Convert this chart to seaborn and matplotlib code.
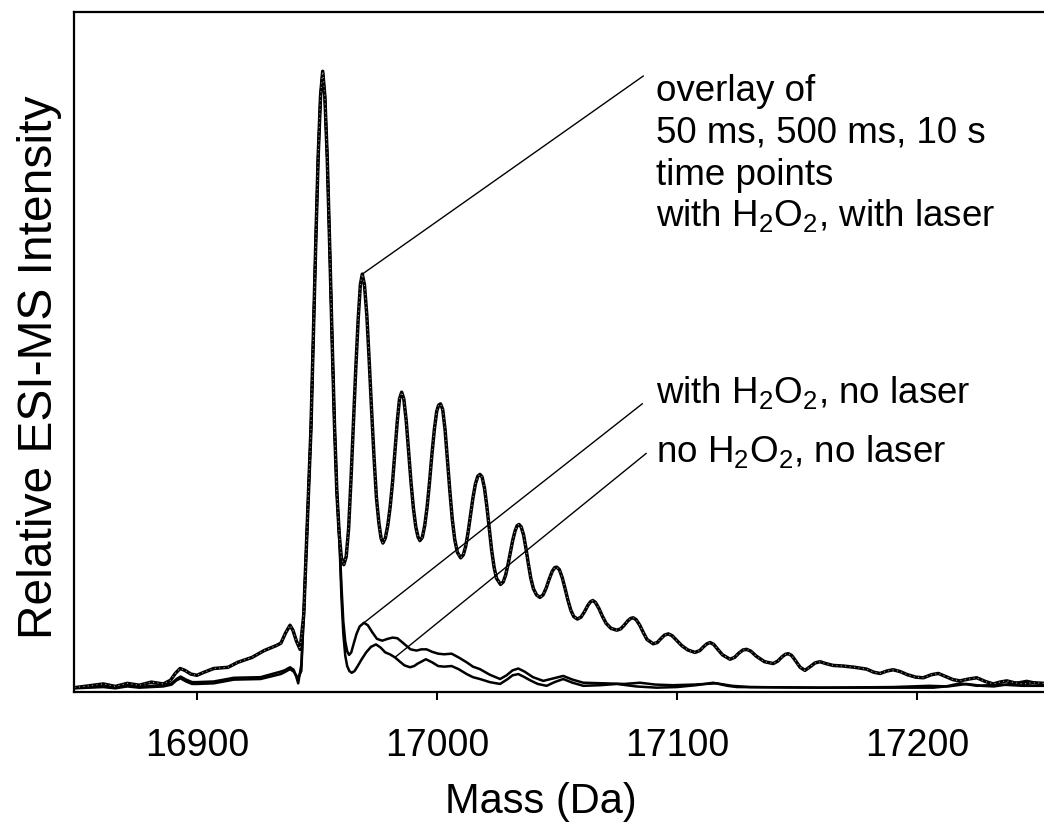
import numpy as np
import pandas as pd
import matplotlib
matplotlib.use("Agg")
import matplotlib.pyplot as plt
import seaborn as sns

# ---------------- data ----------------
# overlay of 50 ms / 500 ms / 10 s, with H2O2, with laser
laser_mass = [16849.0, 16861.0, 16866.0, 16871.0, 16876.0, 16881.0, 16886.0, 16889.0, 16891.0,
              16893.0, 16895.0, 16897.5, 16900.0, 16903.0, 16907.0, 16913.0, 16917.0, 16923.0,
              16928.0, 16933.0, 16935.0, 16937.0, 16938.8, 16940.0, 16941.5, 16943.0,
              16944.5, 16945.5, 16946.5, 16947.5, 16948.5, 16949.5, 16950.5, 16951.5, 16952.4,
              16953.3, 16954.3, 16955.3, 16956.3, 16957.3, 16958.3, 16959.3, 16960.2, 16961.2,
              16962.2, 16963.2, 16964.2, 16965.2, 16966.2, 16967.2, 16968.1, 16968.9, 16969.8,
              16970.8, 16971.8, 16972.8, 16973.8, 16974.8, 16975.8, 16976.7, 16977.5,
              16978.5, 16979.5, 16980.5, 16981.5, 16982.5, 16983.5, 16984.4, 16985.3, 16986.2,
              16987.2, 16988.2, 16989.2, 16990.2, 16991.2, 16992.1, 16992.9,
              16993.9, 16994.9, 16995.9, 16996.9, 16997.9, 16998.9, 16999.9, 17000.7, 17001.5,
              17002.4, 17003.4, 17004.4, 17005.4, 17006.4, 17007.4, 17008.5, 17009.9,
              17011.0, 17012.0, 17013.0, 17014.0, 17015.0, 17016.0, 17017.0, 17017.9, 17018.8,
              17019.8, 17020.8, 17021.8, 17022.8, 17023.8, 17024.8, 17026.5,
              17027.6, 17028.6, 17029.6, 17030.6, 17031.6, 17032.6, 17033.4, 17034.2, 17035.1,
              17036.1, 17037.1, 17038.1, 17039.1, 17040.2, 17041.5, 17042.9,
              17044.2, 17045.5, 17046.8, 17048.0, 17049.0, 17049.9, 17051.0, 17052.2, 17053.4,
              17054.6, 17055.8, 17057.0, 17058.5,
              17060.0, 17061.5, 17063.0, 17064.0, 17064.9, 17066.0, 17067.5, 17069.0, 17070.5,
              17072.5, 17074.9,
              17076.5, 17078.0, 17079.5, 17080.7, 17081.8, 17083.0, 17084.5, 17086.0, 17087.5,
              17090.1,
              17091.8, 17093.2, 17094.8, 17096.4, 17098.0, 17100.0, 17102.0, 17104.5, 17107.5,
              17109.5, 17111.0, 17112.5, 17113.8, 17115.3, 17117.0, 17119.0, 17122.1,
              17124.0, 17125.8, 17127.5, 17129.0, 17130.8, 17133.0, 17136.5, 17140.1,
              17142.0, 17143.8, 17145.2, 17146.4, 17147.8, 17149.5, 17151.3, 17153.3,
              17155.5, 17157.5, 17159.6, 17162.0, 17165.0, 17169.3, 17174.0, 17179.0, 17182.0,
              17184.6, 17187.5, 17190.1, 17193.0, 17196.0, 17199.5, 17202.6, 17206.0, 17208.9,
              17212.0, 17215.0, 17217.9, 17221.5, 17224.9, 17228.5, 17231.8, 17234.5, 17237.4,
              17240.5, 17244.0, 17248.0, 17253.0]
laser_int = [0.3, 0.9, 0.5, 1.0, 0.7, 1.2, 0.9, 1.5, 2.6,
             3.4, 3.1, 2.5, 2.3, 2.8, 3.4, 3.6, 4.4, 5.2,
             6.3, 7.1, 7.5, 9.2, 10.4, 9.6, 7.8, 6.5,
             12.0, 22.0, 32.0, 42.0, 57.0, 72.0, 86.0, 96.0, 100.0,
             96.0, 86.0, 72.0, 57.0, 43.0, 32.0, 25.0, 21.3, 20.2,
             21.5, 26.0, 34.0, 43.0, 52.0, 60.0, 65.5, 67.2, 65.5,
             60.5, 53.0, 45.0, 37.5, 31.0, 27.0, 24.5, 23.7,
             24.5, 26.5, 29.5, 33.5, 38.5, 43.5, 47.0, 48.1, 47.0,
             43.5, 38.5, 33.5, 29.3, 26.3, 24.7, 24.1,
             24.6, 26.5, 29.5, 33.5, 38.0, 42.0, 45.0, 46.0, 46.2,
             45.3, 42.0, 37.0, 32.0, 27.5, 24.3, 22.2, 21.3,
             21.8, 23.2, 25.5, 28.3, 31.0, 33.2, 34.5, 34.8, 34.4,
             32.6, 29.6, 26.0, 22.5, 19.8, 18.0, 17.0,
             17.4, 18.5, 20.2, 22.2, 24.2, 25.7, 26.5, 26.7, 26.3,
             25.0, 22.8, 20.3, 18.0, 16.3, 15.3, 14.9,
             15.3, 16.4, 17.9, 19.1, 19.7, 19.8, 19.4, 18.1, 16.3,
             14.4, 12.8, 11.8, 11.4,
             11.7, 12.6, 13.7, 14.2, 14.4, 14.1, 13.1, 11.8, 10.7,
             9.9, 9.6,
             9.8, 10.4, 11.1, 11.5, 11.6, 11.3, 10.4, 9.2, 8.1,
             7.4,
             7.6, 8.2, 8.8, 9.0, 8.7, 7.9, 7.1, 6.4, 6.0,
             6.3, 6.9, 7.4, 7.6, 7.3, 6.5, 5.6, 4.9,
             5.2, 5.9, 6.4, 6.5, 6.2, 5.4, 4.5, 4.2,
             4.6, 5.3, 5.7, 5.8, 5.5, 4.6, 3.6, 3.1,
             3.7, 4.3, 4.5, 4.2, 3.9, 3.8, 3.6, 3.3, 2.8,
             2.6, 3.0, 3.2, 2.9, 2.4, 2.0, 1.9, 2.4, 2.6,
             2.1, 1.6, 1.4, 1.7, 1.9, 1.3, 0.9, 1.2, 1.4,
             1.1, 0.9, 1.1, 1.0]

# with H2O2, no laser
h2o2_mass = [16849.0, 16861.0, 16866.0, 16871.0, 16876.0, 16881.0, 16886.0, 16889.5, 16891.5,
             16893.2, 16895.5, 16898.0, 16900.0, 16907.0, 16915.4, 16926.5, 16934.9, 16936.5,
             16938.8, 16940.3, 16941.3, 16942.2, 16943.5,
             16944.5, 16945.5, 16946.5, 16947.5, 16948.5, 16949.5, 16950.5, 16951.5, 16952.4,
             16953.3, 16954.3, 16955.3, 16956.3, 16957.3, 16958.3, 16959.3,
             16960.2, 16961.0, 16961.8, 16962.6, 16963.4, 16964.3, 16965.3, 16966.5, 16967.8,
             16969.6, 16971.2, 16973.0, 16975.0, 16977.2, 16979.5, 16981.5, 16983.5, 16986.0,
             16989.0, 16991.5, 16993.5, 16995.7, 16998.0, 17000.5, 17003.0, 17006.1, 17009.0,
             17012.4, 17015.0, 17017.9, 17022.0, 17026.3, 17029.0, 17031.5, 17033.9, 17036.5,
             17040.0, 17044.3, 17048.5, 17052.6, 17056.5, 17061.0, 17070.0, 17078.0, 17084.6,
             17091.0, 17098.3, 17107.0, 17116.5, 17123.0, 17130.4, 17160.0, 17206.7, 17212.0,
             17217.9, 17225.0, 17235.0, 17244.0, 17253.0]
h2o2_int = [0.3, 0.5, 0.3, 0.7, 0.4, 0.6, 0.7, 1.0, 1.7,
            2.1, 1.6, 1.2, 1.2, 1.3, 1.9, 2.0, 2.9, 3.1,
            3.6, 3.2, 2.2, 1.0, 4.0,
            12.0, 22.0, 32.0, 42.0, 57.0, 72.0, 86.0, 96.0, 100.0,
            96.0, 86.0, 72.0, 57.0, 43.0, 32.0, 25.0,
            17.0, 11.0, 7.8, 6.2, 5.6, 6.0, 7.4, 9.0, 10.2,
            10.8, 10.4, 9.3, 8.2, 7.9, 8.2, 8.4, 8.3, 7.5,
            6.5, 6.3, 6.5, 6.5, 6.1, 5.8, 5.7, 5.8, 5.2,
            4.4, 3.7, 3.3, 2.4, 1.7, 2.3, 3.1, 3.4, 2.9,
            2.0, 1.4, 1.8, 2.2, 1.6, 1.1, 1.0, 0.9, 1.1,
            0.8, 0.7, 0.8, 1.0, 0.6, 0.4, 0.3, 0.3, 0.5,
            1.0, 0.6, 0.8, 0.6, 0.6]

# no H2O2, no laser
ctrl_mass = [16849.0, 16861.0, 16866.0, 16871.0, 16876.0, 16881.0, 16886.0, 16889.5, 16891.5,
             16893.2, 16895.5, 16898.0, 16900.0, 16907.0, 16915.4, 16926.5, 16934.9, 16936.5,
             16938.8, 16940.3, 16941.3, 16942.2, 16943.5,
             16944.5, 16945.5, 16946.5, 16947.5, 16948.5, 16949.5, 16950.5, 16951.5, 16952.4,
             16953.3, 16954.3, 16955.3, 16956.3, 16957.3, 16958.3, 16959.3,
             16960.2, 16961.0, 16961.8, 16962.6, 16963.5, 16964.5, 16965.7, 16967.0, 16968.5,
             16970.5, 16972.5, 16974.6, 16976.5, 16978.5, 16980.4, 16982.5, 16984.6, 16986.5,
             16988.8, 16990.5, 16992.0, 16995.4, 16998.0, 17000.5, 17003.0, 17006.1, 17009.0,
             17012.4, 17015.0, 17017.9, 17022.0, 17026.3, 17029.5, 17031.5, 17033.9, 17036.0,
             17038.8, 17042.0, 17045.7, 17049.0, 17052.6, 17056.5, 17061.0, 17068.0, 17075.0,
             17083.0, 17091.5, 17100.0, 17108.0, 17115.1, 17121.0, 17125.0, 17160.0, 17190.0,
             17205.0, 17213.0, 17220.7, 17227.0, 17232.0, 17239.0, 17245.7, 17253.0]
ctrl_int = [0.2, 0.4, 0.2, 0.5, 0.3, 0.4, 0.5, 0.8, 1.5,
            1.8, 1.3, 0.9, 0.9, 1.0, 1.6, 1.7, 2.5, 2.8,
            3.3, 2.9, 2.3, 1.9, 3.0,
            12.0, 22.0, 32.0, 42.0, 57.0, 72.0, 86.0, 96.0, 100.0,
            96.0, 86.0, 72.0, 57.0, 43.0, 32.0, 25.0,
            15.0, 9.0, 5.5, 3.8, 3.0, 2.7, 3.0, 3.8, 4.8,
            6.0, 6.9, 7.3, 6.8, 6.0, 5.7, 5.2, 4.5, 3.9,
            3.6, 3.8, 4.2, 4.9, 4.4, 3.8, 3.7, 3.8, 3.3,
            2.5, 2.0, 1.7, 1.2, 0.9, 1.7, 2.3, 2.5, 2.1,
            1.5, 0.9, 0.6, 1.2, 1.7, 1.1, 0.6, 0.7, 0.9,
            0.5, 0.3, 0.4, 0.7, 1.1, 0.6, 0.4, 0.3, 0.4,
            0.6, 0.5, 0.9, 0.6, 0.5, 0.9, 1.4, 0.8]

xticks = [16900, 17000, 17100, 17200]
x_limits = [16848.8, 17252.9]
y_limits = [-0.4, 109.6]

label_overlay = ["overlay of", "50 ms, 500 ms, 10 s", "time points",
                 r"with H$_2$O$_2$, with laser"]
label_h2o2 = r"with H$_2$O$_2$, no laser"
label_ctrl = r"no H$_2$O$_2$, no laser"

# ---------------- style ----------------
sns.set_theme(style="white")
plt.rcParams["font.family"] = ["Liberation Sans", "DejaVu Sans"]
plt.rcParams["mathtext.fontset"] = "custom"
plt.rcParams["mathtext.rm"] = "Liberation Sans"
plt.rcParams["mathtext.it"] = "Liberation Sans:italic"
plt.rcParams["mathtext.default"] = "regular"

fig = plt.figure(figsize=(10.44, 8.36), dpi=100)
ax = fig.add_axes([74 / 1044, (836 - 692) / 836, 1 - 74 / 1044, (692 - 12) / 836])

df_l = pd.DataFrame({"mass": laser_mass, "inten": laser_int})
df_h = pd.DataFrame({"mass": h2o2_mass, "inten": h2o2_int})
df_c = pd.DataFrame({"mass": ctrl_mass, "inten": ctrl_int})

sns.lineplot(data=df_c, x="mass", y="inten", ax=ax, color="black", lw=1.8,
             estimator=None, sort=False)
sns.lineplot(data=df_h, x="mass", y="inten", ax=ax, color="black", lw=1.8,
             estimator=None, sort=False)
sns.lineplot(data=df_l, x="mass", y="inten", ax=ax, color="black", lw=2.5,
             estimator=None, sort=False)
sns.lineplot(data=df_l, x="mass", y="inten", ax=ax, color="#9a9a9a", lw=0.8,
             linestyle=(0, (1, 3)), estimator=None, sort=False)

ax.set_xlim(*x_limits)
ax.set_ylim(*y_limits)
ax.set_xticks(xticks)
ax.set_xticklabels([str(t) for t in xticks])
ax.set_yticks([])
ax.tick_params(axis="x", direction="out", length=6, width=1.5, colors="black",
               labelsize=27, pad=20, bottom=True)
for side in ["left", "bottom", "top"]:
    ax.spines[side].set_color("black")
    ax.spines[side].set_linewidth(1.6)
ax.spines["right"].set_visible(False)

ax.set_xlabel("Mass (Da)", fontsize=30, color="black")
ax.xaxis.set_label_coords((541 - 74) / 970, -0.1325)
ax.set_ylabel("Relative ESI-MS Intensity", fontsize=34.5, color="black")
ax.yaxis.set_label_coords(-0.0124, (692 - 367) / 680)

# leader lines from the curves to the labels
i_pk2 = laser_int.index(67.2)
i_h = h2o2_int.index(10.8)
i_c = ctrl_mass.index(16982.5)
text_x = 0.60
line_kw = dict(arrowstyle="-", color="black", lw=1.0, shrinkA=0, shrinkB=0)
ax.annotate("", xy=(laser_mass[i_pk2], laser_int[i_pk2]), xycoords="data",
            xytext=(0.587, 0.906), textcoords="axes fraction", arrowprops=line_kw)
ax.annotate("", xy=(h2o2_mass[i_h], h2o2_int[i_h]), xycoords="data",
            xytext=(0.586, 0.424), textcoords="axes fraction", arrowprops=line_kw)
ax.annotate("", xy=(ctrl_mass[i_c], ctrl_int[i_c]), xycoords="data",
            xytext=(0.590, 0.351), textcoords="axes fraction", arrowprops=line_kw)

for txt, yb in zip(label_overlay, [0.8684, 0.8074, 0.7456, 0.6846]):
    ax.text(text_x, yb, txt, transform=ax.transAxes, fontsize=26.5, va="baseline",
            ha="left", color="black")
ax.text(text_x, 0.4246, label_h2o2, transform=ax.transAxes, fontsize=26.5,
        va="baseline", ha="left", color="black")
ax.text(text_x, 0.3387, label_ctrl, transform=ax.transAxes, fontsize=26.5,
        va="baseline", ha="left", color="black")

fig.savefig("out.png", dpi=100)
